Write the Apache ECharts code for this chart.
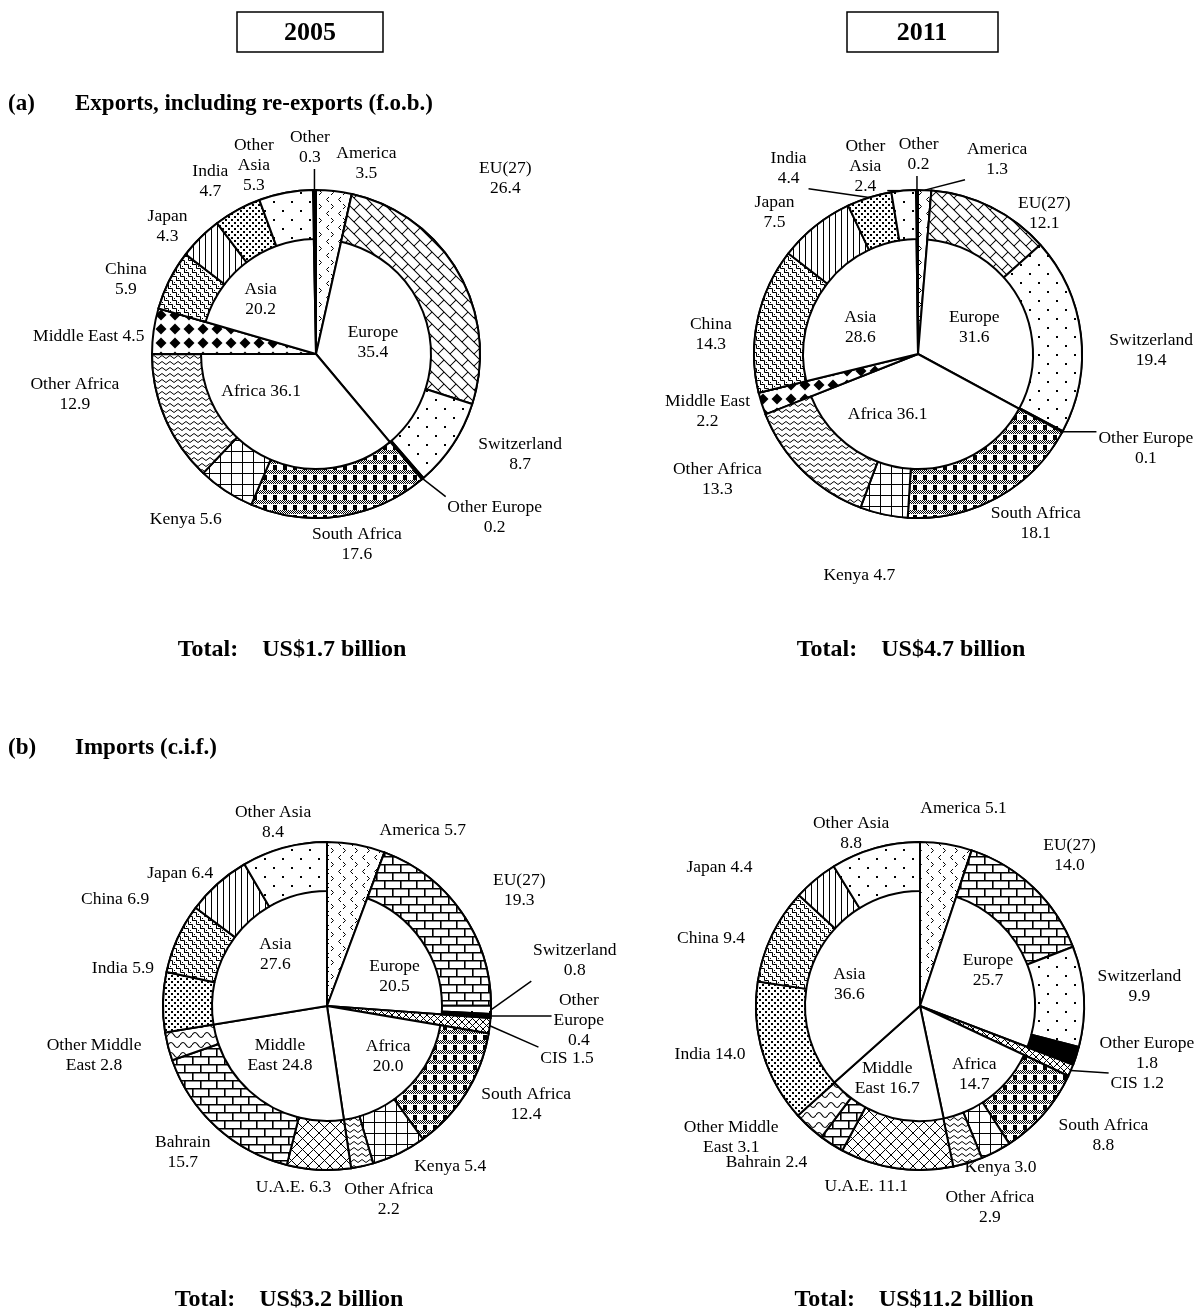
<!DOCTYPE html>
<html><head><meta charset="utf-8">
<script src="https://cdn.jsdelivr.net/npm/echarts@6/dist/echarts.min.js"></script>
<style>html,body{margin:0;padding:0;background:#fff}#c{width:1196px;height:1312px}</style>
</head><body><div id="c"></div><script>
// ---------------- DATA ----------------
const years = ['2005', '2011'];
const sectionTitles = ['Exports, including re-exports (f.o.b.)', 'Imports (c.i.f.)'];
const totals = ['US$1.7 billion', 'US$4.7 billion', 'US$3.2 billion', 'US$11.2 billion'];

const expNames = ['America','EU(27)','Switzerland','Other Europe','South Africa','Kenya','Other Africa','Middle East','China','Japan','India','Other Asia','Other'];
const expRegionNames = ['America','Europe','Africa','Middle East','Asia','Other'];
const exp05Values = [3.5, 26.4, 8.7, 0.2, 17.6, 5.6, 12.9, 4.5, 5.9, 4.3, 4.7, 5.3, 0.3];
const exp05RegionValues = [3.5, 35.4, 36.1, 4.5, 20.2, 0.3];
const exp11Values = [1.3, 12.1, 19.4, 0.1, 18.1, 4.7, 13.3, 2.2, 14.3, 7.5, 4.4, 2.4, 0.2];
const exp11RegionValues = [1.3, 31.6, 36.1, 2.2, 28.6, 0.2];

const impNames = ['America','EU(27)','Switzerland','Other Europe','CIS','South Africa','Kenya','Other Africa','U.A.E.','Bahrain','Other Middle East','India','China','Japan','Other Asia'];
const impRegionNames = ['America','Europe','CIS','Africa','Middle East','Asia'];
const imp05Values = [5.7, 19.3, 0.8, 0.4, 1.5, 12.4, 5.4, 2.2, 6.3, 15.7, 2.8, 5.9, 6.9, 6.4, 8.4];
const imp05RegionValues = [5.7, 20.5, 1.5, 20.0, 24.8, 27.6];
const imp11Values = [5.1, 14.0, 9.9, 1.8, 1.2, 8.8, 3.0, 2.9, 11.1, 2.4, 3.1, 14.0, 9.4, 4.4, 8.8];
const imp11RegionValues = [5.1, 25.7, 1.2, 14.7, 16.7, 36.6];

// ---------------- STYLE ----------------
const FONT = '"Liberation Serif", "Times New Roman", serif';
const LABEL_SIZE = 17.5, LABEL_LH = 20;
const R = 164, R0 = 115;

function mk(w, h, draw) {
  const c = document.createElement('canvas'); c.width = w; c.height = h;
  const g = c.getContext('2d');
  g.fillStyle = '#fff'; g.fillRect(0, 0, w, h);
  g.fillStyle = '#000'; g.strokeStyle = '#000'; g.lineWidth = 1;
  draw(g, w, h); return c;
}
const PAT = {
  chev: mk(12, 14, g => { g.beginPath(); g.moveTo(5, 1); g.lineTo(2.5, 3.5); g.lineTo(5, 6); g.moveTo(7, 8); g.lineTo(9.5, 10.5); g.lineTo(7, 13); g.stroke(); }),
  diagBrick: mk(12, 12, g => {
    const s = 12 / Math.SQRT2; g.rotate(Math.PI / 4); g.beginPath();
    for (let k = -10; k <= 10; k++) {
      g.moveTo(-100, k * s); g.lineTo(100, k * s);
      const off = (((k % 2) + 2) % 2) * s;
      for (let j = -10; j <= 10; j++) { const x = j * 2 * s + off; g.moveTo(x, k * s); g.lineTo(x, (k + 1) * s); }
    }
    g.stroke();
  }),
  hBrick: mk(16, 16, g => { g.lineWidth = 1.6; g.beginPath(); g.moveTo(0, 0.8); g.lineTo(16, 0.8); g.moveTo(0, 8.8); g.lineTo(16, 8.8); g.moveTo(0.8, 0.8); g.lineTo(0.8, 8.8); g.moveTo(8.8, 8.8); g.lineTo(8.8, 16); g.moveTo(8.8, 0); g.lineTo(8.8, 0.8); g.stroke(); }),
  sparseDots: mk(18, 18, g => { g.fillRect(3, 3, 2, 2); g.fillRect(12, 12, 2, 2); }),
  denseDots: mk(6, 6, g => { g.fillRect(0, 0, 2, 2); g.fillRect(3, 3, 2, 2); }),
  plaid: mk(10, 10, g => { for (let y = 0; y < 4; y++) for (let x = 0; x < 10; x++) if ((x + y) % 2 === 0) g.fillRect(x, y, 1, 1); g.fillRect(3, 5, 4, 5); }),
  grid: mk(11, 11, g => { g.fillRect(0, 0, 11, 1); g.fillRect(0, 0, 1, 11); }),
  wave: mk(8, 6, g => { g.beginPath(); g.moveTo(0, 3); g.quadraticCurveTo(2, 0, 4, 3); g.quadraticCurveTo(6, 6, 8, 3); g.stroke(); }),
  wave2: mk(12, 10, g => { g.lineWidth = 1.2; g.beginPath(); g.moveTo(0, 5); g.quadraticCurveTo(3, 0, 6, 5); g.quadraticCurveTo(9, 10, 12, 5); g.stroke(); }),
  diamonds: mk(14, 14, g => { g.beginPath(); g.moveTo(7, 1.5); g.lineTo(12.5, 7); g.lineTo(7, 12.5); g.lineTo(1.5, 7); g.closePath(); g.fill(); }),
  maze: mk(8, 8, g => { g.beginPath(); g.moveTo(0, 0.5); g.lineTo(4.5, 0.5); g.lineTo(4.5, 4.5); g.lineTo(8, 4.5); g.moveTo(0, 4.5); g.lineTo(0.5, 4.5); g.lineTo(0.5, 8); g.stroke(); g.fillRect(2, 6, 1, 1); g.fillRect(6, 2, 1, 1); }),
  vlines: mk(6, 2, g => { g.fillRect(1, 0, 1, 2); }),
  xhatch: mk(11, 11, g => { g.beginPath(); g.moveTo(0, 0); g.lineTo(11, 11); g.moveTo(11, 0); g.lineTo(0, 11); g.stroke(); }),
  xhatchS: mk(7, 7, g => { g.beginPath(); g.moveTo(0, 0); g.lineTo(7, 7); g.moveTo(7, 0); g.lineTo(0, 7); g.stroke(); })
};
function fill(k) {
  if (k === 'white') return '#ffffff';
  if (k === 'black') return '#000000';
  return { image: PAT[k], repeat: 'repeat' };
}
const N2 = '{n}\n{v}', N1 = '{n} {v}';
const expPat = ['chev','diagBrick','sparseDots','black','plaid','grid','wave','diamonds','maze','vlines','denseDots','sparseDots','black'];
const expThrough = [1,0,0,0,0,0,0,1,0,0,0,0,1];
const expRegFill = ['chev','white','white','diamonds','white','black'];
const impPat = ['chev','hBrick','sparseDots','black','xhatchS','plaid','grid','wave','xhatch','hBrick','wave2','denseDots','maze','vlines','sparseDots'];
const impThrough = [1,0,0,0,1,0,0,0,0,0,0,0,0,0,0];
const impRegFill = ['chev','white','xhatchS','white','white','white'];

const panels = [
  { names: expNames, values: exp05Values, regNames: expRegionNames, regValues: exp05RegionValues, center: [316, 354],
    pat: expPat, through: expThrough, regFill: expRegFill,
    fmt: [N2,N2,N2,N2,N2,N1,N2,N1,N2,N2,N2,'Other\nAsia\n{v}',N2],
    lead: {3: 25, 12: 25},
    nudge: [[26,0],[0,-80],[9,-5],[12,5],[6,0],[-5,13],[-24,-36],[18,8],[0,12],[1,8],[-5,-4],[-23,10],[-4,2]],
    regFmt: [null,N2,N1,null,N2,null], regNudge: [[0,0],[-14,6],[-24,-29],[0,0],[-11,3],[0,0]] },
  { names: expNames, values: exp11Values, regNames: expRegionNames, regValues: exp11RegionValues, center: [918, 354],
    pat: expPat, through: expThrough, regFill: expRegFill,
    fmt: [N2,N2,N2,N2,N2,N1,N2,N2,N2,N2,N2,'Other\nAsia\n{v}',N2],
    lead: {0: 8, 3: 25, 10: 25, 11: 20, 12: 25},
    nudge: [[70,-3],[29,31],[1,19],[2,-5],[3,1],[-11,43],[-35,-12],[13,-1],[1,21],[-11,8],[-62,14],[-33,26],[2,9]],
    regFmt: [null,N2,N1,null,N2,null], regNudge: [[0,0],[-8,8],[-26,-12],[0,0],[0,18],[0,0]] },
  { names: impNames, values: imp05Values, regNames: impRegionNames, regValues: imp05RegionValues, center: [327, 1006],
    pat: impPat, through: impThrough, regFill: impRegFill,
    fmt: [N1,N2,N2,'Other\nEurope\n{v}',N1,N2,N1,N2,N1,N2,'Other Middle\nEast {v}',N1,N1,N1,N2],
    lead: {2: 25, 3: 25, 4: 25},
    nudge: [[54,4],[13,-6],[-3,-51],[18,1],[6,28],[-2,-3],[23,-3],[11,6],[-22,0],[4,5],[-1,2],[19,-33],[-6,-32],[3,3],[6,2]],
    regFmt: [null,N2,null,N2,'Middle\nEast {v}',N2], regNudge: [[0,0],[6,10],[0,0],[10,-2],[-4,-10],[4,-4]] },
  { names: impNames, values: imp11Values, regNames: impRegionNames, regValues: imp11RegionValues, center: [920, 1006],
    pat: impPat, through: impThrough, regFill: impRegFill,
    fmt: [N1,N2,N2,N2,N1,N2,N1,N2,N1,N1,'Other Middle\nEast {v}',N1,N1,N1,N2],
    lead: {4: 30},
    nudge: [[6,-18],[-1,-12],[-14,-8],[-1,-11],[-4,-3],[5,3],[-25,0],[1,18],[-20,0],[-28,3],[-27,-10],[8,-4],[-5,11],[-57,2],[-6,12]],
    regFmt: [null,N2,null,N2,'Middle\nEast {v}',N2], regNudge: [[0,0],[2,-4],[0,0],[9,11],[-10,3],[-4,8]] }
];

function fmtLabel(t, name, value) {
  return t.replace('{n}', name).replace('{v}', Number(value).toFixed(1));
}

function outerLayout(p, mids, prm) {
  const i = prm.dataIndex;
  const a = mids[i], ux = Math.sin(a), uy = -Math.cos(a);
  const lead = p.lead[i];
  const L = lead != null ? lead : 8;
  const cx = p.center[0], cy = p.center[1];
  const w = prm.labelRect.width, h = prm.labelRect.height;
  const n = p.nudge[i] || [0, 0];
  const x = cx + ux * (R + L) + ux * (w / 2 + 20) + n[0];
  const y = cy + uy * (R + L) + uy * h / 2 + n[1];
  const res = { x: x, y: y, align: 'center', verticalAlign: 'middle' };
  if (lead != null) {
    const p0 = [cx + ux * R, cy + uy * R];
    let qx = Math.min(Math.max(p0[0], x - w / 2), x + w / 2);
    let qy = Math.min(Math.max(p0[1], y - h / 2), y + h / 2);
    const dx = p0[0] - qx, dy = p0[1] - qy, d = Math.hypot(dx, dy) || 1;
    qx += dx / d * 2; qy += dy / d * 2;
    res.labelLinePoints = [p0, [qx, qy]];
  }
  return res;
}

const series = [];
panels.forEach(p => {
  const total = p.values.reduce((s, v) => s + v, 0);
  let cum = 0;
  const mids = p.values.map(v => { const m = (cum + v / 2) / total * 2 * Math.PI; cum += v; return m; });
  const common = { type: 'pie', silent: true, animation: false, center: p.center, startAngle: 90, clockwise: true, avoidLabelOverlap: false, emphasis: { disabled: true } };
  series.push(Object.assign({}, common, {
    radius: [0, R], label: { show: false }, labelLine: { show: false },
    data: p.regNames.map((n, i) => ({ name: n, value: p.regValues[i], itemStyle: { color: fill(p.regFill[i]), borderColor: '#000', borderWidth: 2 } }))
  }));
  series.push(Object.assign({}, common, {
    radius: [R0, R],
    label: { show: true, position: 'outside', fontFamily: FONT, fontSize: LABEL_SIZE, lineHeight: LABEL_LH, color: '#000', overflow: 'none',
      formatter: prm => fmtLabel(p.fmt[prm.dataIndex], prm.name, prm.value) },
    labelLine: { show: false, length: 8, length2: 0, lineStyle: { color: '#000', width: 1.5 } },
    labelLayout: prm => outerLayout(p, mids, prm),
    data: p.names.map((n, i) => ({
      name: n, value: p.values[i],
      itemStyle: p.through[i] ? { color: 'rgba(0,0,0,0)', borderWidth: 0 } : { color: fill(p.pat[i]), borderColor: '#000', borderWidth: 2 },
      labelLine: { show: p.lead[i] != null, length: 8, length2: 0, lineStyle: { color: '#000', width: 1.5 } }
    }))
  }));
  series.push(Object.assign({}, common, {
    radius: [0, 140], z: 5,
    itemStyle: { color: 'rgba(0,0,0,0)', borderWidth: 0 },
    label: { position: 'inner', fontFamily: FONT, fontSize: LABEL_SIZE, lineHeight: LABEL_LH, color: '#000',
      formatter: prm => p.regFmt[prm.dataIndex] ? fmtLabel(p.regFmt[prm.dataIndex], prm.name, prm.value) : '' },
    labelLine: { show: false },
    labelLayout: prm => ({ dx: p.regNudge[prm.dataIndex][0], dy: p.regNudge[prm.dataIndex][1] }),
    data: p.regNames.map((n, i) => ({ name: n, value: p.regValues[i], label: { show: p.regFmt[i] != null } }))
  }));
});

const bold = (size) => 'bold ' + size + 'px ' + FONT;
const TOTAL_GAP = 'Total:    ';
const graphic = [
  { type: 'rect', shape: { x: 237, y: 12, width: 146, height: 40 }, style: { fill: '#fff', stroke: '#000', lineWidth: 1.5 } },
  { type: 'text', x: 310, y: 33, style: { text: years[0], font: bold(26), align: 'center', verticalAlign: 'middle', fill: '#000' } },
  { type: 'rect', shape: { x: 847, y: 12, width: 151, height: 40 }, style: { fill: '#fff', stroke: '#000', lineWidth: 1.5 } },
  { type: 'text', x: 922, y: 33, style: { text: years[1], font: bold(26), align: 'center', verticalAlign: 'middle', fill: '#000' } },
  { type: 'text', x: 8, y: 104, style: { text: '(a)', font: bold(23), align: 'left', verticalAlign: 'middle', fill: '#000' } },
  { type: 'text', x: 75, y: 104, style: { text: sectionTitles[0], font: bold(23), align: 'left', verticalAlign: 'middle', fill: '#000' } },
  { type: 'text', x: 8, y: 748, style: { text: '(b)', font: bold(23), align: 'left', verticalAlign: 'middle', fill: '#000' } },
  { type: 'text', x: 75, y: 748, style: { text: sectionTitles[1], font: bold(23), align: 'left', verticalAlign: 'middle', fill: '#000' } },
  { type: 'text', x: 292, y: 650, style: { text: TOTAL_GAP + totals[0], font: bold(24), align: 'center', verticalAlign: 'middle', fill: '#000' } },
  { type: 'text', x: 911, y: 650, style: { text: TOTAL_GAP + totals[1], font: bold(24), align: 'center', verticalAlign: 'middle', fill: '#000' } },
  { type: 'text', x: 289, y: 1300, style: { text: TOTAL_GAP + totals[2], font: bold(24), align: 'center', verticalAlign: 'middle', fill: '#000' } },
  { type: 'text', x: 914, y: 1300, style: { text: TOTAL_GAP + totals[3], font: bold(24), align: 'center', verticalAlign: 'middle', fill: '#000' } }
];

const chart = echarts.init(document.getElementById('c'), null, { renderer: 'canvas' });
chart.setOption({ backgroundColor: '#fff', animation: false, series: series, graphic: graphic });
</script></body></html>
